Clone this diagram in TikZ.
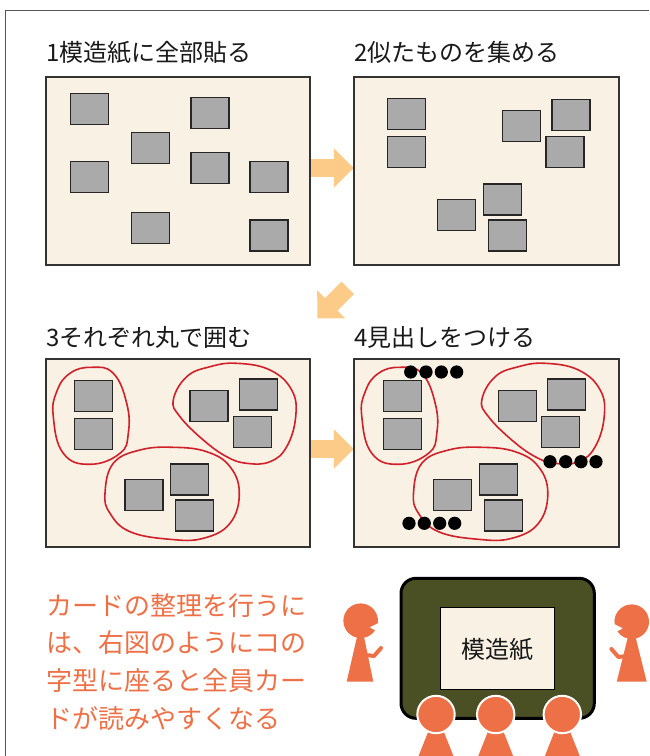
\documentclass[tikz,border=0pt]{standalone}
\usepackage{fontspec}
\newfontfamily\jp{Noto Sans CJK JP}
\definecolor{paperfill}{HTML}{F8F1E4}
\definecolor{cardfill}{HTML}{A9AAA9}
\definecolor{loopred}{HTML}{D0202A}
\definecolor{arrowfill}{HTML}{FBCB87}
\definecolor{person}{HTML}{EE7046}
\definecolor{board}{HTML}{4B5024}
\definecolor{framegray}{HTML}{555555}

\tikzset{
  panel/.style={fill=paperfill, draw=black!80, line width=1.3pt},
  card/.style={fill=cardfill, draw=black!85, line width=1.1pt},
  grouploop/.style={draw=loopred, line width=1.6pt},
  headdot/.style={fill=black},
  title/.style={anchor=base west, inner sep=0pt, font=\jp\fontsize{24}{28}\selectfont, text=black!90},
  note/.style={anchor=base west, inner sep=0pt, font=\jp\fontsize{26}{30}\selectfont, text=person},
  fatarrow/.pic={\fill[arrowfill] (0,0) -- (-19.7,-19.8) -- (-19.7,-8.8) -- (-43,-8.8)
      -- (-43,8.8) -- (-19.7,8.8) -- (-19.7,19.8) -- cycle;}
}

\begin{document}
\begin{tikzpicture}[x=1pt, y=-1pt]
\useasboundingbox (0,0) rectangle (649,756);
\clip (0,0) rectangle (649,756);

% outer frame lines
\draw[framegray, line width=1.3pt] (649,10.7) -- (5.6,10.7) -- (5.6,760);

% block arrows between the steps
\pic at (353.5,168) {fatarrow};
\pic at (353.5,449) {fatarrow};
\pic[rotate=-135] at (317.3,318.3) {fatarrow};

% titles
\node[title] (t1) at (46,61) {1模造紙に全部貼る};
\node[title] (t2) at (354,61) {2似たものを集める};
\node[title] (t3) at (46,346) {3それぞれ丸で囲む};
\node[title] (t4) at (354,346) {4見出しをつける};

% panels
\draw[panel] (46,77) rectangle (310,265);
\draw[panel] (354,77) rectangle (619,265);
\draw[panel] (46,359) rectangle (310,547);
\draw[panel] (354,359) rectangle (619,547);

% step 1: cards scattered
\foreach \x/\y in {70.7/93.3, 191/97.3, 131.7/132.7, 70.7/161.7, 191/152.7, 250/161.7, 131.7/212.7, 250/220}
  \draw[card] (\x,\y) rectangle ++(38,31);

% step 2: similar cards gathered
\foreach \x/\y in {387.3/98.3, 387.3/136.7, 502.7/110.3, 552/99.3, 546/136.3, 483.3/184, 437.3/199.3, 488.3/220}
  \draw[card] (\x,\y) rectangle ++(38,31);

% steps 3 and 4: groups circled
\foreach \dx in {0, 308.5} {
  \begin{scope}[shift={(\dx,0)}]
    \foreach \x/\y in {74.7/380.3, 74.7/418.7, 190/390.3, 239.3/379, 233.3/416.7, 170.7/464, 125/479.3, 175.7/500}
      \draw[card] (\x,\y) rectangle ++(38,31);
    \draw[grouploop] plot[smooth cycle, tension=0.75] coordinates {
      (91.7,367.3) (113.3,373.3) (126.7,403.3) (128.3,433.3) (120,453.3)
      (90,464.3) (63.3,453.3) (53.3,416.7) (56.7,391.7) (70,373.3)};
    \draw[grouploop] plot[smooth cycle, tension=0.7] coordinates {
      (173.3,400) (186.7,376.7) (210,366.7) (236.7,363.3) (270,370) (291.7,390)
      (295.7,416.7) (286.7,446.7) (270,461.7) (246.7,463.3) (226.7,456.7)
      (203.3,440) (180,416.7)};
    \draw[grouploop] plot[smooth cycle, tension=0.7] coordinates {
      (105,493.3) (113.3,463.3) (140,450) (173.3,447.3) (206.7,451.7) (230,466.7)
      (239.3,493.3) (230,523.3) (203.3,538.3) (170,539.3) (130,531.7) (110,513.3)};
  \end{scope}
}

% step 4: headline markers
\foreach \x in {410.7, 426, 441.3, 456.7} \fill[headdot] (\x,372) circle (6.6);
\foreach \x in {550, 565.7, 581, 596} \fill[headdot] (\x,461.7) circle (6.6);
\foreach \x in {409, 424.3, 439.7, 454.7} \fill[headdot] (\x,523.3) circle (6.6);

% explanatory note
\node[note] (n1) at (46,615) {カードの整理を行うに};
\node[note] (n2) at (46,652.7) {は、右図のようにコの};
\node[note] (n3) at (46,690.4) {字型に座ると全員カー};
\node[note] (n4) at (46,728) {ドが読みやすくなる};

% table with the paper on it
\draw[fill=board, draw=black, line width=3pt, rounded corners=15pt] (401,578.3) rectangle (594.3,718.3);
\draw[fill=paperfill, draw=black, line width=1pt] (440.7,607.3) rectangle (554.3,689.3);
\node[font=\jp\fontsize{24}{28}\selectfont, text=black!90, inner sep=0pt] (paperlabel) at (497.5,650) {模造紙};

% person on the left
\fill[person] (360.7,620.7) -- (346.7,681.7) -- (373.3,681.7) -- cycle;
\draw[person, line width=4pt, line cap=round, line join=round] (366,655) -- (374,656) -- (381,648);
\fill[person] (375.0,630.4) arc[start angle=34, end angle=368, radius=17.3] -- (369.4,627.3) -- cycle;

% person on the right
\fill[person] (631.7,621.7) -- (616.7,681.7) -- (646.7,681.7) -- cycle;
\draw[person, line width=4pt, line cap=round, line join=round] (626.4,656) -- (618.4,657) -- (611.4,649);
\fill[person] (614.6,624.1) arc[start angle=172, end angle=506, radius=17.3] -- (623.0,628.3) -- cycle;

% persons in front
\foreach \x in {436, 495.7, 562.3} {
  \fill[person] (\x,712) -- (\x-21,765) -- (\x+21,765) -- cycle;
  \draw[fill=person, draw=white, line width=2pt] (\x,714.5) circle (18.7);
}
\end{tikzpicture}
\end{document}
